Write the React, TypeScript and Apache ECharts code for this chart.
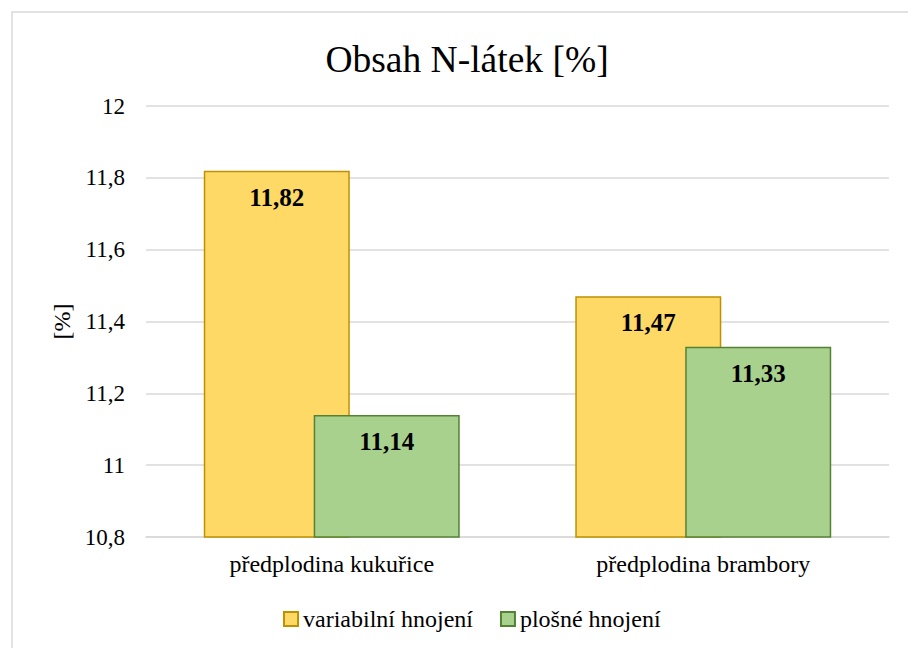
import React, { useEffect, useRef } from "react";
import * as echarts from "echarts";

const title = "Obsah N-látek [%]";
const categories = ["předplodina kukuřice", "předplodina brambory"];
const seriesNames = ["variabilní hnojení", "plošné hnojení"];
const variabilni = [11.82, 11.47];
const plosne = [11.14, 11.33];
const yMin = 10.8;
const yMax = 12;
const yStep = 0.2;
const yName = "[%]";

const FONT = "Liberation Serif";

const fmt = (v: number, d: number) =>
  Number(v.toFixed(d)).toString().replace(".", ",");

export default function App() {
  const ref = useRef<HTMLDivElement>(null);
  useEffect(() => {
    if (!ref.current) return;
    const chart = echarts.init(ref.current, null, { renderer: "svg" });
    const txt = { fontFamily: FONT, fontSize: 24, fontWeight: "normal", color: "#000" };
    const label = {
      show: true,
      position: "insideTop",
      distance: 14,
      fontFamily: FONT,
      fontSize: 25,
      fontWeight: "bold",
      color: "#000",
      formatter: (p: any) => fmt(p.value, 2),
    };
    chart.setOption({
      animation: false,
      backgroundColor: "#ffffff",
      textStyle: { fontFamily: FONT, fontWeight: "normal" },
      title: {
        text: title,
        left: 462,
        top: 35,
        textAlign: "center",
        textStyle: { fontFamily: FONT, fontSize: 37.5, fontWeight: "normal", color: "#000" },
      },
      graphic: [
        {
          type: "rect",
          shape: { x: 12, y: 12, width: 920, height: 660 },
          style: { fill: "none", stroke: "#D9D9D9", lineWidth: 1.5 },
          silent: true,
        },
      ],
      grid: { left: 146, right: 19, top: 106, bottom: 111 },
      legend: {
        top: 602,
        left: 278,
        padding: 5,
        itemWidth: 14,
        itemHeight: 14,
        itemGap: 27,
        icon: "rect",
        textStyle: { ...txt },
        data: seriesNames,
      },
      xAxis: {
        type: "category",
        data: categories,
        axisTick: { show: false },
        axisLine: { lineStyle: { color: "#D9D9D9", width: 1.5 } },
        axisLabel: { ...txt, margin: 15 },
      },
      yAxis: {
        type: "value",
        min: yMin,
        max: yMax,
        interval: yStep,
        name: yName,
        nameLocation: "middle",
        nameGap: 72,
        nameRotate: 90,
        nameTextStyle: { ...txt },
        axisLine: { show: false },
        axisTick: { show: false },
        splitLine: { lineStyle: { color: "#D9D9D9", width: 1.5 } },
        axisLabel: {
          ...txt,
          fontSize: 23,
          margin: 21,
          formatter: (v: number) => fmt(v, 1),
        },
      },
      series: [
        {
          name: seriesNames[0],
          type: "bar",
          data: variabilni,
          barWidth: 146,
          barGap: "-24.7%",
          itemStyle: { color: "#FFD966", borderColor: "#BF9000", borderWidth: 1.5 },
          label,
        },
        {
          name: seriesNames[1],
          type: "bar",
          data: plosne,
          barWidth: 146,
          itemStyle: { color: "#A9D18E", borderColor: "#548235", borderWidth: 1.5 },
          label,
        },
      ],
    });
    return () => chart.dispose();
  }, []);
  return (
    <div
      ref={ref}
      style={{ position: "fixed", left: 0, top: 0, width: 908, height: 648 }}
    />
  );
}
